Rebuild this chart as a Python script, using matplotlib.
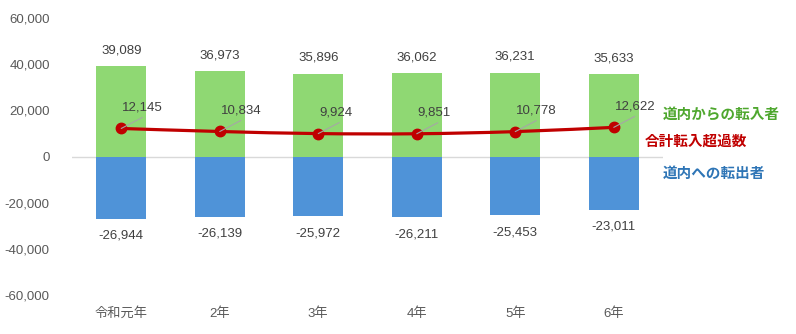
import matplotlib
matplotlib.use("Agg")
import matplotlib.pyplot as plt
from matplotlib.path import Path
from matplotlib.patches import PathPatch
import numpy as np

plt.rcParams['font.family'] = ['Liberation Sans', 'Noto Sans CJK JP', 'DejaVu Sans']

years = ['令和元年', '2年', '3年', '4年', '5年', '6年']
inflow = [39089, 36973, 35896, 36062, 36231, 35633]
outflow = [-26944, -26139, -25972, -26211, -25453, -23011]
net = [12145, 10834, 9924, 9851, 10778, 12622]
yticks = [60000, 40000, 20000, 0, -20000, -40000, -60000]

GREEN = '#8fd873'
BLUE = '#4f93d8'
RED = '#c00000'
TEXT = '#404040'
TICK = '#595959'

fig = plt.figure(figsize=(7.96, 3.34), dpi=100)
ax = fig.add_axes([72 / 796, 1 - 295 / 334, (663 - 72) / 796, (295 - 18) / 334])

x = np.arange(len(years))
ax.bar(x, inflow, width=0.51, color=GREEN, zorder=2)
ax.bar(x, outflow, width=0.51, color=BLUE, zorder=2)
ax.axhline(0, color='#d9d9d9', lw=1, zorder=1)

# smooth curve through the net values (Catmull-Rom -> cubic Bezier)
pts = np.column_stack([x, net]).astype(float)
verts = [tuple(pts[0])]
codes = [Path.MOVETO]
n = len(pts)
for i in range(n - 1):
    p0 = pts[i - 1] if i > 0 else pts[i]
    p1, p2 = pts[i], pts[i + 1]
    p3 = pts[i + 2] if i + 2 < n else pts[i + 1]
    c1 = p1 + (p2 - p0) / 6
    c2 = p2 - (p3 - p1) / 6
    verts += [tuple(c1), tuple(c2), tuple(p2)]
    codes += [Path.CURVE4] * 3
ax.add_patch(PathPatch(Path(verts, codes), facecolor='none', edgecolor=RED,
                       lw=2.3, zorder=3, capstyle='round', joinstyle='round'))
ax.plot(x, net, linestyle='none', marker='o', ms=7.5, color=RED, zorder=4)

for xi, v in zip(x, inflow):
    ax.annotate(f'{v:,}', (xi, v), xytext=(0, 16), textcoords='offset pixels',
                ha='center', va='center', fontsize=9.5, color=TEXT)
for xi, v in zip(x, outflow):
    ax.annotate(f'{v:,}', (xi, v), xytext=(0, -17), textcoords='offset pixels',
                ha='center', va='center', fontsize=9.5, color=TEXT)
for xi, v in zip(x, net):
    ax.annotate('', (xi, v), xytext=(21, 11), textcoords='offset pixels',
                arrowprops=dict(arrowstyle='-', color='#a6a6a6', lw=0.8,
                                shrinkA=0, shrinkB=0), zorder=5)
    ax.annotate(f'{v:,}', (xi, v), xytext=(1, 21), textcoords='offset pixels',
                ha='left', va='center', fontsize=9.5, color=TEXT, zorder=5)

ax.set_xlim(-0.5, 5.5)
ax.set_ylim(-60000, 60000)
ax.set_yticks(yticks)
ax.set_yticklabels([f'{t:,}' for t in yticks])
ax.set_xticks(x)
ax.set_xticklabels(years)
ax.tick_params(axis='both', length=0, labelsize=9.5, labelcolor=TICK)
ax.tick_params(axis='x', pad=9)
ax.tick_params(axis='y', pad=16)
for s in ax.spines.values():
    s.set_visible(False)

fig.text(663 / 796, 1 - 115 / 334, '道内からの転入者', color='#4ea72e',
         fontsize=10.5, fontweight='bold', va='center', ha='left')
fig.text(645 / 796, 1 - 142 / 334, '合計転入超過数', color=RED,
         fontsize=10.5, fontweight='bold', va='center', ha='left')
fig.text(663 / 796, 1 - 174 / 334, '道内への転出者', color='#2e75b6',
         fontsize=10.5, fontweight='bold', va='center', ha='left')

fig.savefig('out.png', dpi=100, facecolor='white')
